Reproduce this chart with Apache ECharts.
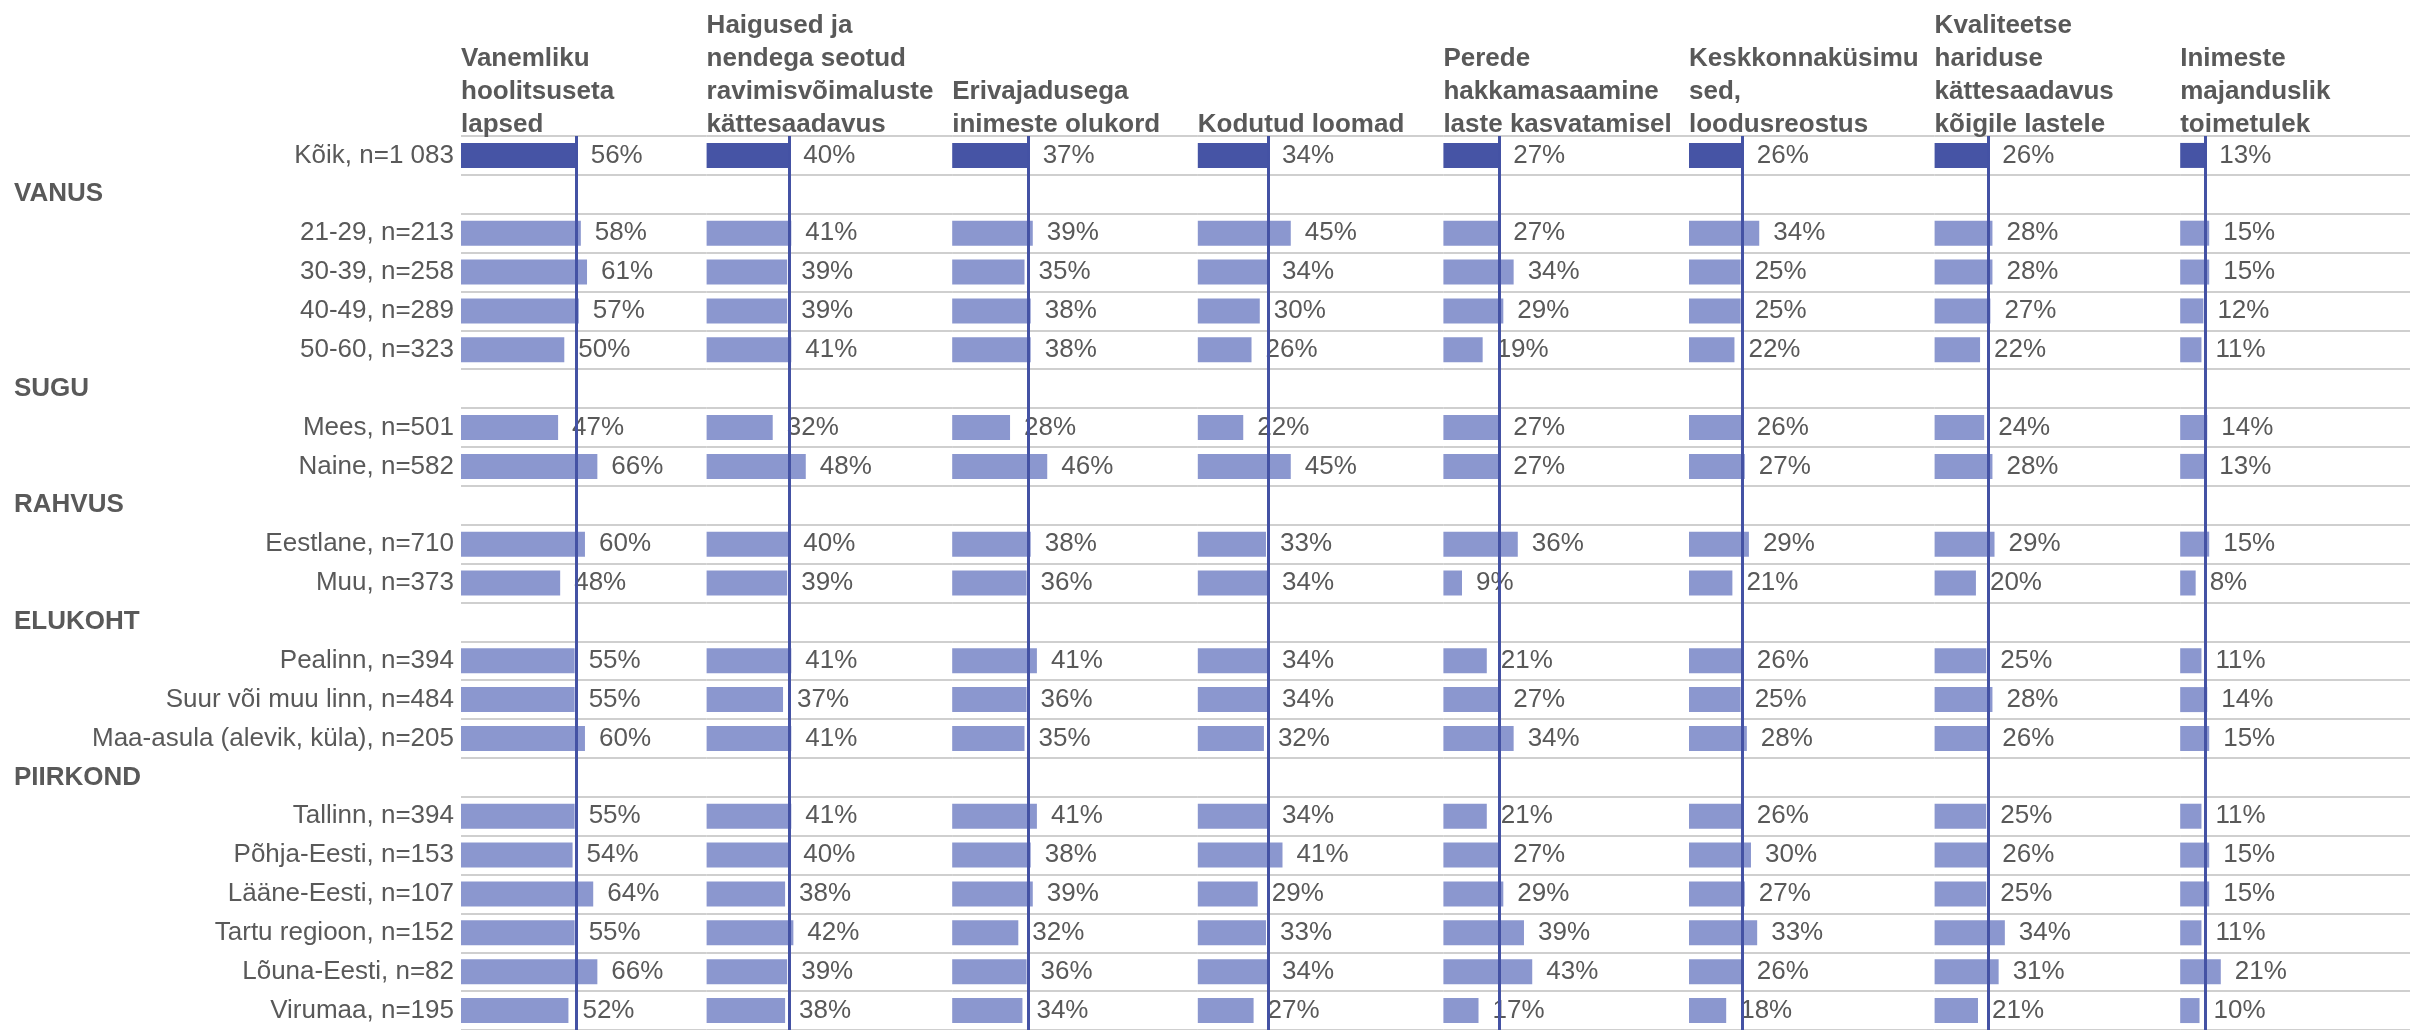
<!DOCTYPE html>
<html>
<head>
<meta charset="utf-8">
<title>Probleemid</title>
<script src="https://cdn.jsdelivr.net/npm/echarts@6/dist/echarts.min.js"></script>
<style>
  html, body { margin: 0; padding: 0; background: #fff; }
  #chart { width: 2410px; height: 1030px; }
</style>
</head>
<body>
<div id="chart"></div>
<script>
// rows top-to-bottom, section headers have no value (null)
var rows = ['Kõik, n=1 083', 'VANUS', '21-29, n=213', '30-39, n=258', '40-49, n=289', '50-60, n=323',
  'SUGU', 'Mees, n=501', 'Naine, n=582', 'RAHVUS', 'Eestlane, n=710', 'Muu, n=373',
  'ELUKOHT', 'Pealinn, n=394', 'Suur või muu linn, n=484', 'Maa-asula (alevik, küla), n=205',
  'PIIRKOND', 'Tallinn, n=394', 'Põhja-Eesti, n=153', 'Lääne-Eesti, n=107', 'Tartu regioon, n=152',
  'Lõuna-Eesti, n=82', 'Virumaa, n=195'];
var sections = ['VANUS', 'SUGU', 'RAHVUS', 'ELUKOHT', 'PIIRKOND'];

var headers = [
  'Vanemliku\nhoolitsuseta\nlapsed',
  'Haigused ja\nnendega seotud\nravimisvõimaluste\nkättesaadavus',
  'Erivajadusega\ninimeste olukord',
  'Kodutud loomad',
  'Perede\nhakkamasaamine\nlaste kasvatamisel',
  'Keskkonnaküsimu\nsed,\nloodusreostus',
  'Kvaliteetse\nhariduse\nkättesaadavus\nkõigile lastele',
  'Inimeste\nmajanduslik\ntoimetulek'
];

var vanemlik   = [56, null, 58, 61, 57, 50, null, 47, 66, null, 60, 48, null, 55, 55, 60, null, 55, 54, 64, 55, 66, 52];
var haigused   = [40, null, 41, 39, 39, 41, null, 32, 48, null, 40, 39, null, 41, 37, 41, null, 41, 40, 38, 42, 39, 38];
var erivajadus = [37, null, 39, 35, 38, 38, null, 28, 46, null, 38, 36, null, 41, 36, 35, null, 41, 38, 39, 32, 36, 34];
var loomad     = [34, null, 45, 34, 30, 26, null, 22, 45, null, 33, 34, null, 34, 34, 32, null, 34, 41, 29, 33, 34, 27];
var perede     = [27, null, 27, 34, 29, 19, null, 27, 27, null, 36, 9, null, 21, 27, 34, null, 21, 27, 29, 39, 43, 17];
var keskkond   = [26, null, 34, 25, 25, 22, null, 26, 27, null, 29, 21, null, 26, 25, 28, null, 26, 30, 27, 33, 26, 18];
var haridus    = [26, null, 28, 28, 27, 22, null, 24, 28, null, 29, 20, null, 25, 28, 26, null, 25, 26, 25, 34, 31, 21];
var toimetulek = [13, null, 15, 15, 12, 11, null, 14, 13, null, 15, 8, null, 11, 14, 15, null, 11, 15, 15, 11, 21, 10];

var columns = [vanemlik, haigused, erivajadus, loomad, perede, keskkond, haridus, toimetulek];

var FONT = 'Liberation Sans, Arial, sans-serif';
var TXT = '#595959';
var DARK = '#4654a5';
var LIGHT = '#8b97cf';

var colLeft = 461, colStep = 245.6, gridTop = 136, gridH = 897;
var pxPerPct = 2.066;
var xMax = colStep / pxPerPct;

var grids = [], xAxes = [], yAxes = [], series = [], titles = [];

columns.forEach(function (vals, i) {
  var left = colLeft + i * colStep;
  grids.push({ left: left, top: gridTop, width: colStep, height: gridH, containLabel: false });
  xAxes.push({ type: 'value', gridIndex: i, min: 0, max: xMax, show: false });
  yAxes.push({
    type: 'category', gridIndex: i, data: rows, inverse: true,
    axisLine: { show: false }, axisTick: { show: false },
    splitLine: { show: true, interval: 0, lineStyle: { color: '#bfbfbf', width: 1.5 } },
    axisLabel: {
      show: i === 0, interval: 0, margin: 7, fontFamily: FONT, fontSize: 26, color: TXT,
      formatter: function (v) { return sections.indexOf(v) >= 0 ? '' : v; }
    }
  });
  titles.push({
    text: headers[i], left: left, bottom: 889, padding: 0,
    textStyle: { fontFamily: FONT, fontSize: 26, fontWeight: 'bold', color: TXT, lineHeight: 33 }
  });
  series.push({
    type: 'bar', xAxisIndex: i, yAxisIndex: i, data: vals, barWidth: 25,
    itemStyle: {
      color: function (p) { return p.dataIndex === 0 ? DARK : LIGHT; }
    },
    label: {
      show: true, position: 'right', distance: 14, formatter: '{c}%',
      fontFamily: FONT, fontSize: 26, color: TXT
    },
    markLine: {
      silent: true, symbol: 'none', label: { show: false },
      lineStyle: { color: '#4452a4', width: 3, type: 'solid' },
      data: [{ xAxis: vals[0] }]
    }
  });
});

// section headers (VANUS, SUGU, ...) left-aligned at the page edge
yAxes.push({
  type: 'category', gridIndex: 0, data: rows, inverse: true, position: 'left',
  axisLine: { show: false }, axisTick: { show: false }, splitLine: { show: false },
  axisLabel: {
    interval: 0, margin: colLeft - 14, align: 'left',
    fontFamily: FONT, fontSize: 26, fontWeight: 'bold', color: TXT,
    formatter: function (v) { return sections.indexOf(v) >= 0 ? v : ''; }
  }
});

var chart = echarts.init(document.getElementById('chart'));
chart.setOption({
  animation: false,
  backgroundColor: '#fff',
  title: titles,
  grid: grids,
  xAxis: xAxes,
  yAxis: yAxes,
  series: series
});
</script>
</body>
</html>
